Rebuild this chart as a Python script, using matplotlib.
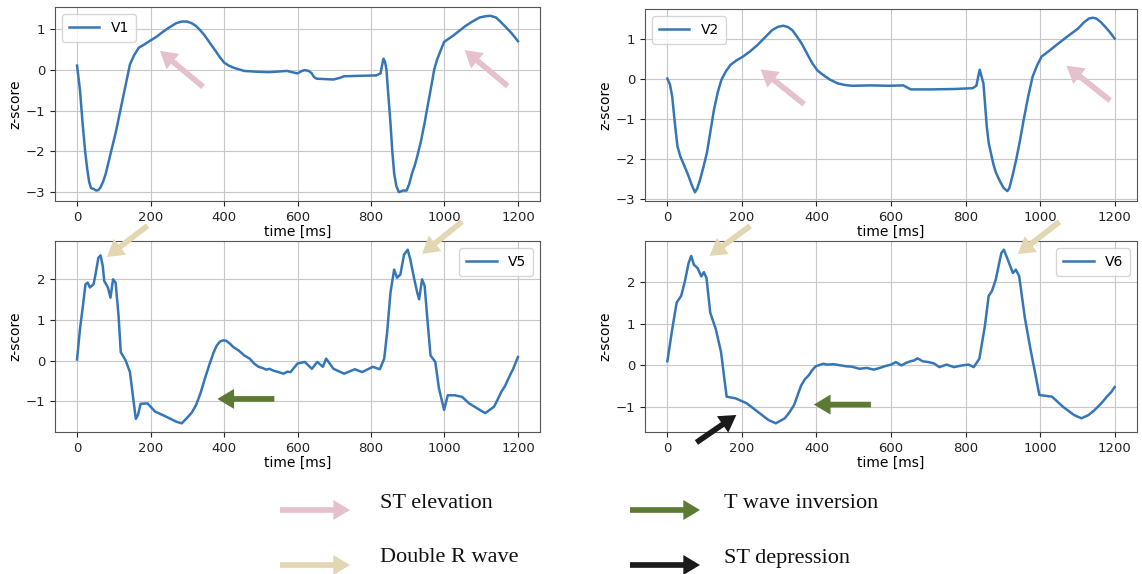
import matplotlib.pyplot as plt

# Averaged beats per lead, z-scored (time in ms)
t_v1 = [0, 8, 15, 22, 28, 33, 38, 45, 52, 58, 64, 71, 78, 85, 95, 105, 115, 124, 134, 144,
        155, 168, 180, 197, 215, 231, 250, 270, 285, 299, 312, 324, 336, 348, 362, 377, 390,
        401, 413, 426, 440, 455, 490, 523, 571, 590, 600, 612, 620, 630, 638, 645, 652, 698,
        715, 727, 770, 814, 826, 830, 834, 838, 842, 847, 853, 858, 863, 869, 876, 887, 897,
        904, 912, 919, 926, 936, 946, 955, 965, 972, 980, 990, 999, 1010, 1023, 1040, 1057,
        1076, 1096, 1112, 1125, 1140, 1152, 1164, 1182, 1200]
v1 = [0.10, -0.50, -1.30, -2.00, -2.45, -2.75, -2.90, -2.92, -2.96, -2.95, -2.88, -2.74,
      -2.55, -2.29, -1.92, -1.55, -1.12, -0.73, -0.30, 0.13, 0.35, 0.54, 0.60, 0.70, 0.80,
      0.91, 1.03, 1.14, 1.18, 1.18, 1.14, 1.07, 0.96, 0.83, 0.65, 0.46, 0.29, 0.17, 0.10,
      0.05, 0.01, -0.03, -0.05, -0.06, -0.03, -0.07, -0.09, -0.03, -0.01, -0.03, -0.08,
      -0.18, -0.22, -0.24, -0.20, -0.16, -0.15, -0.14, -0.09, 0.10, 0.27, 0.20, 0.01, -0.60,
      -1.30, -2.00, -2.53, -2.85, -3.00, -2.96, -2.96, -2.80, -2.53, -2.35, -2.12, -1.75,
      -1.30, -0.85, -0.36, 0.00, 0.25, 0.48, 0.68, 0.75, 0.83, 0.95, 1.07, 1.18, 1.28, 1.31,
      1.32, 1.28, 1.18, 1.07, 0.90, 0.70]

t_v2 = [0, 7, 13, 20, 27, 35, 42, 50, 57, 65, 74, 80, 88, 97, 106, 115, 125, 135, 145, 157,
        169, 185, 203, 222, 242, 262, 281, 296, 311, 323, 335, 347, 360, 375, 389, 403, 418,
        437, 457, 476, 496, 545, 594, 633, 643, 653, 711, 770, 819, 829, 834, 838, 843, 848,
        852, 857, 862, 868, 875, 882, 892, 902, 912, 917, 921, 928, 936, 946, 956, 968, 980,
        992, 1004, 1024, 1044, 1073, 1102, 1117, 1131, 1141, 1151, 1163, 1175, 1188, 1200]
v2 = [0.00, -0.15, -0.45, -1.10, -1.69, -1.95, -2.10, -2.28, -2.44, -2.65, -2.84, -2.75,
      -2.52, -2.20, -1.86, -1.35, -0.78, -0.35, -0.03, 0.18, 0.34, 0.45, 0.55, 0.68, 0.84,
      1.03, 1.21, 1.29, 1.32, 1.29, 1.21, 1.06, 0.88, 0.62, 0.38, 0.20, 0.09, -0.03, -0.12,
      -0.16, -0.18, -0.17, -0.18, -0.17, -0.22, -0.27, -0.27, -0.26, -0.24, -0.18, 0.05,
      0.22, 0.05, -0.12, -0.60, -1.20, -1.60, -1.86, -2.15, -2.36, -2.56, -2.73, -2.81,
      -2.75, -2.61, -2.35, -2.02, -1.55, -1.03, -0.45, 0.05, 0.33, 0.55, 0.69, 0.84, 1.05,
      1.25, 1.40, 1.50, 1.52, 1.50, 1.41, 1.29, 1.15, 1.00]

t_v5 = [0, 8, 16, 23, 29, 35, 45, 51, 58, 64, 70, 74, 84, 91, 98, 105, 113, 119, 132, 144,
        154, 160, 166, 173, 192, 212, 241, 270, 285, 299, 312, 324, 336, 348, 360, 372, 380,
        389, 398, 406, 416, 426, 440, 455, 470, 482, 494, 505, 515, 524, 533, 548, 562, 572,
        581, 590, 600, 620, 639, 654, 669, 678, 698, 727, 756, 776, 805, 824, 836, 844, 853,
        863, 871, 880, 890, 900, 907, 917, 926, 931, 939, 946, 955, 962, 975, 985, 999, 1009,
        1028, 1048, 1067, 1096, 1111, 1135, 1145, 1155, 1165, 1174, 1187, 1200]
v5 = [0.03, 0.78, 1.35, 1.88, 1.92, 1.80, 1.88, 2.16, 2.53, 2.59, 2.33, 1.96, 1.80, 1.55,
      2.00, 1.92, 1.10, 0.21, 0.01, -0.28, -1.01, -1.43, -1.33, -1.06, -1.05, -1.25, -1.37,
      -1.50, -1.54, -1.41, -1.28, -1.09, -0.80, -0.44, -0.10, 0.21, 0.37, 0.47, 0.50, 0.49,
      0.42, 0.33, 0.25, 0.13, 0.05, -0.07, -0.15, -0.18, -0.22, -0.20, -0.24, -0.28, -0.32,
      -0.27, -0.28, -0.18, -0.07, -0.03, -0.20, -0.03, -0.15, 0.05, -0.20, -0.32, -0.21,
      -0.28, -0.15, -0.21, 0.05, 0.70, 1.67, 2.24, 2.04, 2.12, 2.61, 2.73, 2.49, 2.04, 1.67,
      1.51, 2.00, 1.84, 0.86, 0.13, -0.03, -0.68, -1.21, -0.85, -0.85, -0.89, -1.05, -1.21,
      -1.29, -1.13, -0.95, -0.76, -0.62, -0.44, -0.20, 0.09]

t_v6 = [0, 13, 25, 37, 47, 57, 64, 71, 81, 91, 98, 105, 115, 130, 144, 159, 183, 213, 242,
        271, 291, 315, 328, 340, 350, 359, 369, 379, 388, 398, 418, 430, 445, 466, 480, 495,
        515, 535, 554, 570, 583, 600, 613, 628, 640, 652, 662, 671, 685, 701, 715, 730, 749,
        769, 790, 808, 822, 837, 852, 862, 871, 881, 896, 903, 915, 927, 935, 944, 959, 974,
        988, 998, 1032, 1061, 1091, 1111, 1130, 1145, 1160, 1170, 1179, 1190, 1200]
v6 = [0.10, 0.87, 1.51, 1.67, 2.02, 2.46, 2.63, 2.42, 2.34, 2.14, 2.24, 2.10, 1.27, 0.87,
      0.32, -0.75, -0.79, -0.91, -1.11, -1.31, -1.39, -1.27, -1.12, -0.95, -0.70, -0.48,
      -0.33, -0.24, -0.12, -0.02, 0.04, 0.02, 0.03, 0.00, -0.02, -0.03, -0.08, -0.06, -0.10,
      -0.06, -0.02, 0.02, 0.08, 0.00, 0.06, 0.10, 0.12, 0.17, 0.10, 0.08, 0.05, -0.04, 0.02,
      -0.04, 0.00, 0.02, -0.04, 0.16, 0.95, 1.67, 1.79, 2.06, 2.70, 2.78, 2.50, 2.22, 2.30,
      2.14, 1.15, 0.40, -0.24, -0.71, -0.75, -0.99, -1.19, -1.27, -1.19, -1.08, -0.95,
      -0.85, -0.75, -0.65, -0.52]

leads = ['V1', 'V2', 'V5', 'V6']
key_labels = ['ST elevation', 'T wave inversion', 'Double R wave', 'ST depression']

PINK = '#e5c0cd'
BEIGE = '#e3d6b2'
GREEN = '#5c7a34'
BLACK = '#1a1a1a'
LINE = '#3676b6'

W, H = 1142, 574
fig = plt.figure(figsize=(W / 100, H / 100), dpi=100)


def px_axes(left, top, right, bottom):
    return fig.add_axes([left / W, 1 - bottom / H, (right - left) / W, (bottom - top) / H])


def arrow(ax, tail, head, color, scale=24):
    ax.annotate('', xy=head, xytext=tail, annotation_clip=False,
                arrowprops=dict(arrowstyle='simple,head_length=0.5,head_width=0.6,tail_width=0.17',
                                mutation_scale=scale, color=color, lw=0,
                                shrinkA=0, shrinkB=0))


axes = [px_axes(55, 7, 540, 201), px_axes(645, 9, 1137, 201),
        px_axes(55, 241, 540, 432), px_axes(645, 241, 1137, 432)]
series = [(t_v1, v1), (t_v2, v2), (t_v5, v5), (t_v6, v6)]

for ax, (t, v), name in zip(axes, series, leads):
    ax.plot(t, v, color=LINE, lw=1.8, label=name)
    ax.grid(True, color='#c8c8c8', lw=0.8)
    ax.set_xticks(range(0, 1201, 200))
    ax.tick_params(labelsize=9.5, colors='#222222', length=3.5)
    ax.set_xlabel('time [ms]', fontsize=10, labelpad=1)
    ax.set_ylabel('z-score', fontsize=10, labelpad=2)
    for s in ax.spines.values():
        s.set_color('#555555')
    loc = 'upper left' if name in ('V1', 'V2') else 'upper right'
    ax.legend(loc=loc, fontsize=10, handlelength=2.2, borderpad=0.5, framealpha=0.8)

# ST elevation
arrow(axes[0], (343, -0.42), (226, 0.46), PINK)
arrow(axes[0], (1172, -0.40), (1055, 0.48), PINK)
arrow(axes[1], (367, -0.64), (250, 0.23), PINK)
arrow(axes[1], (1188, -0.55), (1071, 0.32), PINK)
# double R wave
arrow(axes[2], (192, 3.32), (81, 2.55), BEIGE)
arrow(axes[2], (1048, 3.42), (939, 2.63), BEIGE)
arrow(axes[3], (222, 3.35), (113, 2.63), BEIGE)
arrow(axes[3], (1052, 3.45), (940, 2.67), BEIGE)
# T wave inversion
arrow(axes[2], (537, -0.94), (382, -0.94), GREEN)
arrow(axes[3], (546, -0.94), (393, -0.94), GREEN)
# ST depression
arrow(axes[3], (78, -1.85), (185, -1.19), BLACK)

# key below the panels
key = px_axes(0, 475, W, H)
key.set_xlim(0, W)
key.set_ylim(H, 475)
key.axis('off')
key_rows = [(PINK, 280, 510, 380), (GREEN, 630, 510, 724),
            (BEIGE, 280, 565, 380), (BLACK, 630, 565, 724)]
for (col, x0, y0, xt), lab in zip(key_rows, key_labels):
    arrow(key, (x0, y0), (x0 + 70, y0), col, scale=24)
    key.text(xt, y0 - 7, lab, fontsize=16, family='Liberation Serif',
             va='center', ha='left', color='#111111')

fig.savefig('out.png', dpi=100)
